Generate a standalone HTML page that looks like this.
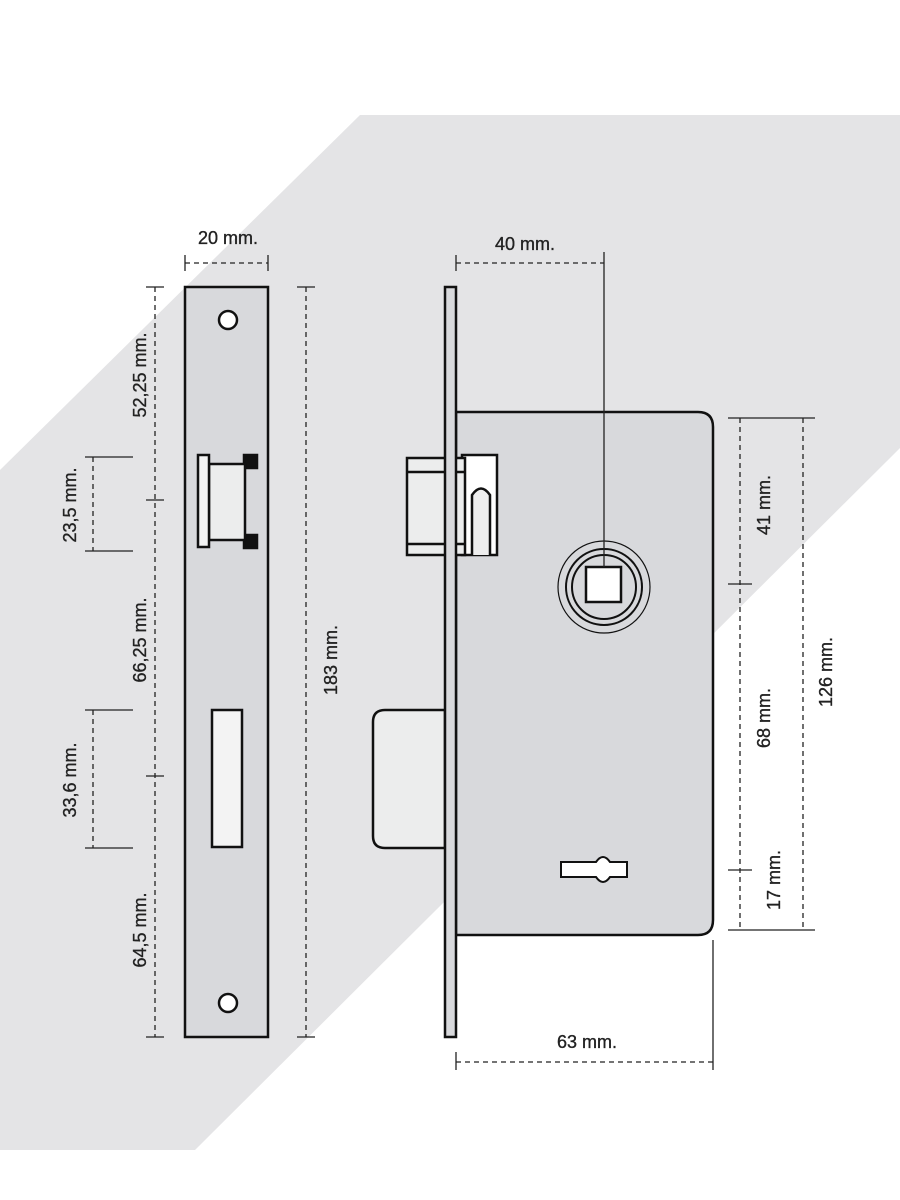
<!DOCTYPE html>
<html><head><style>body{margin:0;background:#fff}svg{display:block}text{font-family:"Liberation Sans",sans-serif;font-size:18px;fill:#222;stroke:#222;stroke-width:0.35}</style></head><body>
<svg width="900" height="1200" viewBox="0 0 900 1200">
<polygon points="360,115 900,115 900,448 195,1150 0,1150 0,470" fill="#e4e4e6"/>
<g stroke="#111" stroke-width="2.5" fill="#d8d9dc">
<rect x="185" y="287" width="83" height="750"/>
<circle cx="228" cy="320" r="9" fill="#fff"/>
<circle cx="228" cy="1003" r="9" fill="#fff"/>
<rect x="244" y="455" width="13" height="13" fill="#111"/>
<rect x="244" y="535" width="13" height="13" fill="#111"/>
<rect x="209" y="464" width="36" height="76" fill="#eceded"/>
<rect x="198" y="455" width="11" height="92" fill="#f3f3f3"/>
<rect x="212" y="710" width="30" height="137" fill="#f3f3f3"/>
<path d="M445,710 H385 Q373,710 373,722 V836 Q373,848 385,848 H445 Z" fill="#eceded"/>
<path d="M456,412 H698 Q713,412 713,427 V920 Q713,935 698,935 H456 Z"/>
<rect x="462" y="455" width="35" height="100" fill="#fff"/>
<path d="M472,555 V495 Q481,482 490,495 V555" fill="#eee"/>
<rect x="407" y="458" width="58" height="97" fill="#eceded"/>
<line x1="407" y1="472" x2="465" y2="472"/>
<line x1="407" y1="544" x2="465" y2="544"/>
<rect x="445" y="287" width="11" height="750" fill="#d8d9dc"/>
<circle cx="604" cy="587" r="46" fill="none" stroke-width="1.2"/>
<circle cx="604" cy="587" r="38" fill="none" stroke-width="2"/>
<circle cx="604" cy="587" r="32" fill="none" stroke-width="2"/>
<rect x="586" y="567" width="35" height="35" fill="#fff"/>
<path d="M561,862 H596 Q603,852 610,862 H627 V877 H610 Q603,887 596,877 H561 Z" fill="#fff" stroke-width="2"/>
</g>
<g stroke="#222" stroke-width="1.3" fill="none">
<line x1="604" y1="252" x2="604" y2="567"/>
<g stroke-dasharray="5,4">
<line x1="185" y1="263" x2="268" y2="263"/>
<line x1="456" y1="263" x2="604" y2="263"/>
<line x1="456" y1="1062" x2="713" y2="1062"/>
<line x1="155" y1="287" x2="155" y2="1037"/>
<line x1="93" y1="457" x2="93" y2="551"/>
<line x1="93" y1="710" x2="93" y2="848"/>
<line x1="306" y1="287" x2="306" y2="1037"/>
<line x1="740" y1="418" x2="740" y2="930"/>
<line x1="803" y1="418" x2="803" y2="930"/>
</g>
<path d="M185,255V271M268,255V271M456,255V271M456,1052V1070M713,940V1070"/>
<path d="M146,287H164M146,500H164M146,776H164M146,1037H164M85,457H133M85,551H133M85,710H133M85,848H133M297,287H315M297,1037H315"/>
<path d="M728,418H815M728,584H752M728,870H752M728,930H815"/>
</g>
<text x="228" y="244" text-anchor="middle">20 mm.</text>
<text x="525" y="250" text-anchor="middle">40 mm.</text>
<text x="587" y="1048" text-anchor="middle">63 mm.</text>
<g text-anchor="middle">
<text transform="translate(146,375) rotate(-90)">52,25 mm.</text>
<text transform="translate(146,640) rotate(-90)">66,25 mm.</text>
<text transform="translate(146,930) rotate(-90)">64,5 mm.</text>
<text transform="translate(76,505) rotate(-90)">23,5 mm.</text>
<text transform="translate(76,780) rotate(-90)">33,6 mm.</text>
<text transform="translate(337,660) rotate(-90)">183 mm.</text>
<text transform="translate(770,505) rotate(-90)">41 mm.</text>
<text transform="translate(770,718) rotate(-90)">68 mm.</text>
<text transform="translate(780,880) rotate(-90)">17 mm.</text>
<text transform="translate(832,672) rotate(-90)">126 mm.</text>
</g>
</svg>
</body></html>
